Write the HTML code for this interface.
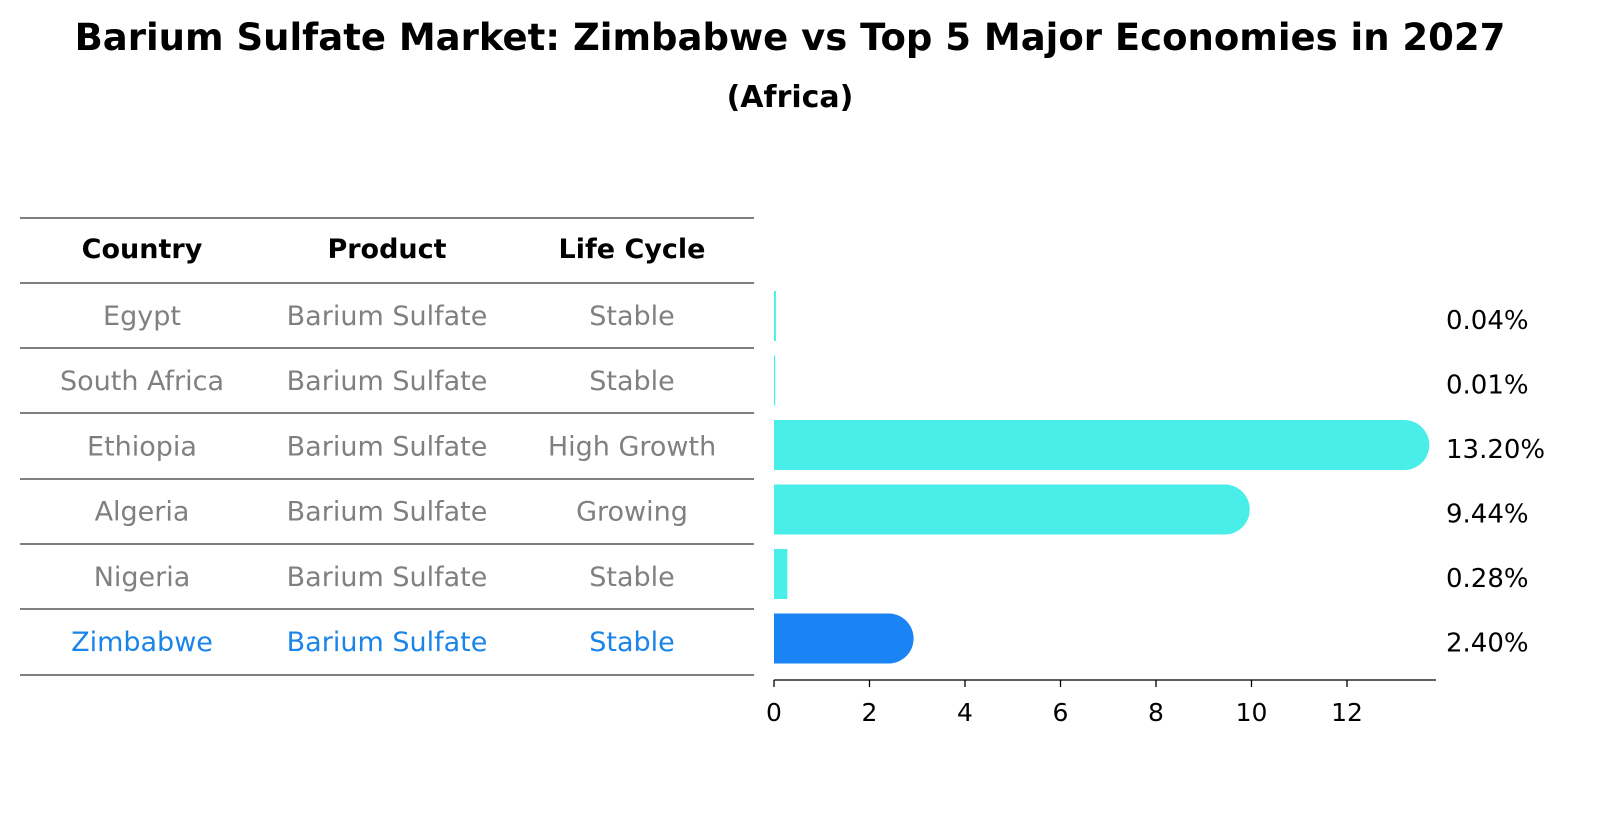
<!DOCTYPE html>
<html><head><meta charset="utf-8"><style>
body{margin:0;background:#fff;font-family:"Liberation Sans","DejaVu Sans",sans-serif;}
svg text{font-family:"DejaVu Sans","Liberation Sans",sans-serif;}
</style></head><body>
<svg id="c" width="1604" height="823" viewBox="0 0 1604 823" xmlns="http://www.w3.org/2000/svg">
<text x="790" y="50" text-anchor="middle" font-size="37" font-weight="bold">Barium Sulfate Market: Zimbabwe vs Top 5 Major Economies in 2027</text>
<text x="790" y="107" text-anchor="middle" font-size="30" font-weight="bold">(Africa)</text>
<g id="table"></g>
<g id="bars"></g>
</svg>
<script>
const countries=["Egypt","South Africa","Ethiopia","Algeria","Nigeria","Zimbabwe"];
const products=["Barium Sulfate","Barium Sulfate","Barium Sulfate","Barium Sulfate","Barium Sulfate","Barium Sulfate"];
const lifeCycles=["Stable","Stable","High Growth","Growing","Stable","Stable"];
const values=[0.04,0.01,13.20,9.44,0.28,2.40];
const valueLabels=["0.04%","0.01%","13.20%","9.44%","0.28%","2.40%"];
const xTicks=[0,2,4,6,8,10,12];
const NS="http://www.w3.org/2000/svg";
function mk(tag,attrs,parent,text){const e=document.createElementNS(NS,tag);for(const k in attrs)e.setAttribute(k,attrs[k]);if(text!==undefined)e.textContent=text;parent.appendChild(e);return e;}
const X=v=>774+v*47.75;
const rowY=i=>316+i*64.5;
const tb=document.getElementById('table');
const lines=[218,283,348,413,479,544,609,675];
lines.forEach(y=>{const l=mk('line',{x1:20,x2:754,y1:y,y2:y,stroke:'#000','stroke-width':1},tb);

});
const cols=[142,387,632];
["Country","Product","Life Cycle"].forEach((h,j)=>{const t=mk('text',{x:cols[j],y:258,'text-anchor':'middle','font-size':27,'font-weight':'bold'},tb,h);

});
countries.forEach((c,i)=>{const col=i===countries.length-1?'#1a84e8':'#808080';
[c,products[i],lifeCycles[i]].forEach((v,j)=>{const t=mk('text',{x:cols[j],y:325+i*65.2,'text-anchor':'middle','font-size':27,fill:col},tb,v);

});});
const bg=document.getElementById('bars');
values.forEach((v,i)=>{const col=i===values.length-1?'#1a84f5':'#4aeee9';const cy=rowY(i),h=50;
const x0=X(0),x1=X(v);
if(v>1){const p=mk('path',{d:`M${x0},${cy-h/2}H${x1}A${h/2},${h/2} 0 0 1 ${x1},${cy+h/2}H${x0}Z`,fill:col},bg);

}
else{const r=mk('rect',{x:x0,y:cy-h/2,width:Math.max(x1-x0,1.2),height:h,fill:col},bg);

}
const t=mk('text',{x:1446,y:cy+13,'font-size':26},bg,valueLabels[i]);

});
const ax=mk('line',{x1:774,x2:1436,y1:680,y2:680,stroke:'#000','stroke-width':1.3},bg);


xTicks.forEach(t=>{const l=mk('line',{x1:X(t),x2:X(t),y1:680,y2:687,stroke:'#000','stroke-width':1.3},bg);


const tx=mk('text',{x:X(t),y:721,'text-anchor':'middle','font-size':25},bg,String(t));

});
</script>
</body></html>
